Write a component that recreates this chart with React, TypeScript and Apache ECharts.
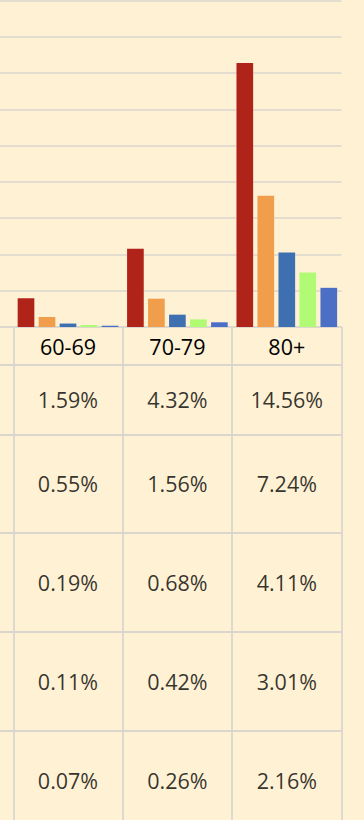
import React, { useEffect, useRef } from "react";
import * as echarts from "echarts";

// Categories (first one is cut off at the left edge of the picture)
const categories = ["", "60-69", "70-79", "80+"];

// Series values (%) for 60-69, 70-79, 80+
const series1 = [1.59, 4.32, 14.56];
const series2 = [0.55, 1.56, 7.24];
const series3 = [0.19, 0.68, 4.11];
const series4 = [0.11, 0.42, 3.01];
const series5 = [0.07, 0.26, 2.16];

const seriesValues = [series1, series2, series3, series4, series5];
const seriesColors = ["#B02318", "#F09E4C", "#3E6FB0", "#B0FA74", "#4C6FC6"];

// y axis ticks
const yMin = 0;
const yMax = 18;
const yInterval = 2;

// table layout (px inside the table area)
const tableHeight = 493;
const rowLines = [38, 107.3, 205.7, 304.7, 404];
const rowCenters = [72.6, 156.5, 255, 354.3, 453];

const BG = "#FEF1D4";
const LINE = "#DAD6CE";
const FONT = "'Open Sans', 'Noto Sans', sans-serif";
const FONT_SIZE = 21.5;

export default function App() {
  const ref = useRef<HTMLDivElement>(null);

  useEffect(() => {
    if (!ref.current) return;
    const chart = echarts.init(ref.current, null, { renderer: "svg" });

    const gridLeft = -96.1;
    const gridWidth = 437.6;

    const barSeries = seriesValues.map((vals, i) => ({
      type: "bar",
      xAxisIndex: 0,
      yAxisIndex: 0,
      data: [null, ...vals],
      barGap: "26%",
      barCategoryGap: "8%",
      itemStyle: { color: seriesColors[i] },
    }));

    const cellData: any[] = [];
    seriesValues.forEach((vals, r) => {
      vals.forEach((v, c) => {
        cellData.push([c + 1, rowCenters[r], v]);
      });
    });

    chart.setOption({
      animation: false,
      backgroundColor: BG,
      grid: [
        {
          left: gridLeft,
          width: gridWidth,
          top: 0.5,
          height: 326.5,
          containLabel: false,
          outerBoundsMode: "none",
        },
        {
          left: gridLeft,
          width: gridWidth,
          top: 327,
          height: tableHeight,
          containLabel: false,
          outerBoundsMode: "none",
        },
      ],
      xAxis: [
        {
          type: "category",
          gridIndex: 0,
          data: categories,
          boundaryGap: true,
          axisLine: { show: true, lineStyle: { color: LINE, width: 1.5 } },
          axisTick: { show: false },
          axisLabel: {
            show: true,
            interval: 0,
            margin: 19.5,
            verticalAlign: "middle",
            fontFamily: FONT,
            fontSize: FONT_SIZE,
            fontWeight: 500,
            color: "#000000",
          },
          splitLine: { show: false },
        },
        {
          type: "category",
          gridIndex: 1,
          data: categories,
          boundaryGap: true,
          axisLine: { show: false },
          axisTick: { show: false },
          axisLabel: { show: false },
          splitLine: { show: true, interval: 0, lineStyle: { color: LINE, width: 1.8 } },
        },
      ],
      yAxis: [
        {
          type: "value",
          gridIndex: 0,
          min: yMin,
          max: yMax,
          interval: yInterval,
          axisLine: { show: false },
          axisTick: { show: false },
          axisLabel: { show: false },
          splitLine: { show: true, lineStyle: { color: LINE, width: 1.5 } },
        },
        {
          type: "value",
          gridIndex: 1,
          inverse: true,
          min: 0,
          max: tableHeight,
          axisLine: { show: false },
          axisTick: { show: false },
          axisLabel: { show: false },
          splitLine: { show: false },
        },
      ],
      series: [
        ...barSeries,
        {
          type: "scatter",
          xAxisIndex: 1,
          yAxisIndex: 1,
          symbolSize: 1,
          itemStyle: { color: BG },
          silent: true,
          data: cellData,
          label: {
            show: true,
            position: "inside",
            fontFamily: FONT,
            fontSize: FONT_SIZE,
            fontWeight: 500,
            color: "#000000",
            textBorderWidth: 0,
            textBorderColor: "transparent",
            formatter: (p: any) => `${Number(p.value[2]).toFixed(2)}%`,
          },
          markLine: {
            silent: true,
            symbol: ["none", "none"],
            label: { show: false },
            lineStyle: { color: LINE, width: 1.8, type: "solid" },
            data: rowLines.map((y) => ({ yAxis: y })),
          },
        },
      ],
    });

    return () => chart.dispose();
  }, []);

  return (
    <div
      ref={ref}
      style={{ position: "absolute", left: 0, top: 0, width: 364, height: 820 }}
    />
  );
}
